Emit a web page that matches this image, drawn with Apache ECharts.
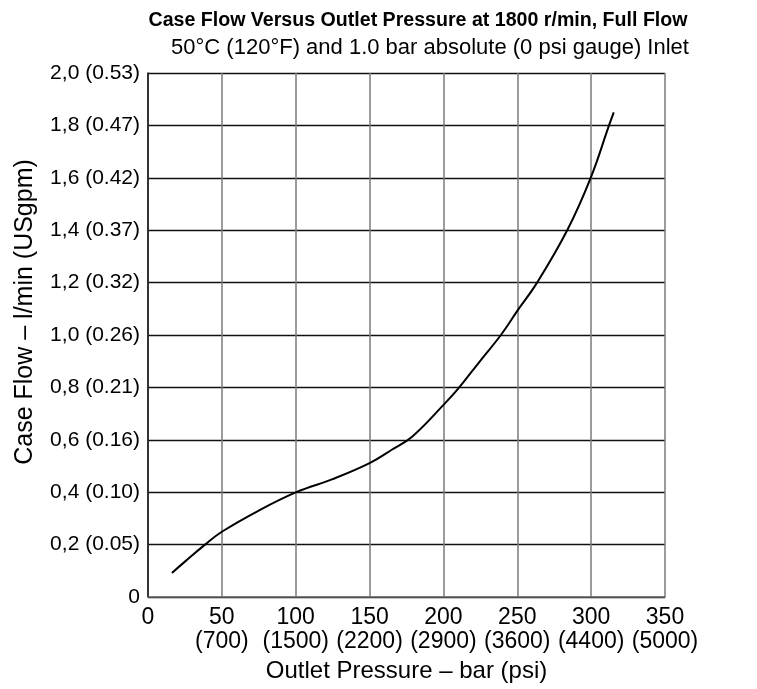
<!DOCTYPE html>
<html>
<head>
<meta charset="utf-8">
<script src="https://cdn.jsdelivr.net/npm/echarts@6/dist/echarts.min.js"></script>
<style>
html,body{margin:0;padding:0;background:#fff;}
#chart{width:757px;height:689px;}
</style>
</head>
<body>
<div id="chart"></div>
<script>
// Data
const pressureBar = [16.2, 25, 38.6, 50, 75, 100.8, 125, 150, 165, 179, 200.7, 210, 224, 238.9, 250, 263.4, 283.8, 299.7, 312.1, 315.3];
const caseFlow    = [0.092, 0.135, 0.2, 0.249, 0.33, 0.401, 0.45, 0.511, 0.562, 0.613, 0.737, 0.795, 0.895, 1.0, 1.092, 1.2, 1.4, 1.6, 1.8, 1.85];

const xTickValues = [0, 50, 100, 150, 200, 250, 300, 350];
const xTickPsi    = ['', '(700)', '(1500)', '(2200)', '(2900)', '(3600)', '(4400)', '(5000)'];
const yTickValues = [0, 0.2, 0.4, 0.6, 0.8, 1.0, 1.2, 1.4, 1.6, 1.8, 2.0];
const yTickGpm    = ['', '(0.05)', '(0.10)', '(0.16)', '(0.21)', '(0.26)', '(0.32)', '(0.37)', '(0.42)', '(0.47)', '(0.53)'];

const titleText = 'Case Flow Versus Outlet Pressure at 1800 r/min, Full Flow';
const subtitleText = '50°C (120°F) and 1.0 bar absolute (0 psi gauge) Inlet';
const xName = 'Outlet Pressure – bar (psi)';
const yName = 'Case Flow – l/min (USgpm)';

const FONT = 'Liberation Sans, Arial, Helvetica, sans-serif';

const chart = echarts.init(document.getElementById('chart'), null, {renderer: 'canvas'});

function xLabel(v) {
  const i = xTickValues.findIndex(t => Math.abs(t - v) < 1e-6);
  if (i < 0) return '';
  return xTickPsi[i] ? v + '\n' + xTickPsi[i] : String(v);
}
function yLabel(v) {
  const i = yTickValues.findIndex(t => Math.abs(t - v) < 1e-6);
  if (i < 0) return '';
  if (i === 0) return '0';
  return v.toFixed(1).replace('.', ',') + ' ' + yTickGpm[i];
}

chart.setOption({
  animation: false,
  backgroundColor: '#fff',
  title: [
    {text: titleText, left: 413, top: 6, textAlign: 'center',
     textStyle: {fontFamily: FONT, fontWeight: 'bold', fontSize: 19.6, color: '#000'}},
    {text: subtitleText, left: 425, top: 32, textAlign: 'center',
     textStyle: {fontFamily: FONT, fontWeight: 'normal', fontSize: 22, color: '#000'}}
  ],
  grid: {left: 148, right: 92, top: 73, bottom: 92, containLabel: false},
  xAxis: {
    type: 'value', min: 0, max: 350, interval: 50,
    name: xName, nameLocation: 'middle', nameGap: 60,
    nameTextStyle: {fontFamily: FONT, fontSize: 24, color: '#000'},
    axisLine: {show: true, lineStyle: {color: '#666', width: 1.5}},
    axisTick: {show: false},
    axisLabel: {formatter: xLabel, margin: 9, fontFamily: FONT, fontSize: 23, lineHeight: 24, color: '#000',
                showMinLabel: true, showMaxLabel: true},
    splitLine: {show: true, lineStyle: {color: '#7a7a7a', width: 1.5}}
  },
  yAxis: {
    type: 'value', min: 0, max: 2.0, interval: 0.2,
    axisLine: {show: true, lineStyle: {color: '#111', width: 1.5}},
    axisTick: {show: false},
    axisLabel: {formatter: yLabel, margin: 8, fontFamily: FONT, fontSize: 21, color: '#000',
                showMinLabel: true, showMaxLabel: true},
    splitLine: {show: true, lineStyle: {color: '#111', width: 1.3}}
  },
  graphic: [
    {type: 'text', x: 25, y: 312, rotation: Math.PI / 2,
     style: {text: yName, fontFamily: FONT, fontSize: 25, fill: '#000', align: 'center', verticalAlign: 'middle'}}
  ],
  series: [{
    type: 'line',
    data: pressureBar.map((x, i) => [x, caseFlow[i]]),
    showSymbol: false,
    smooth: 0.4,
    lineStyle: {color: '#000', width: 2},
    clip: false
  }]
});
</script>
</body>
</html>
